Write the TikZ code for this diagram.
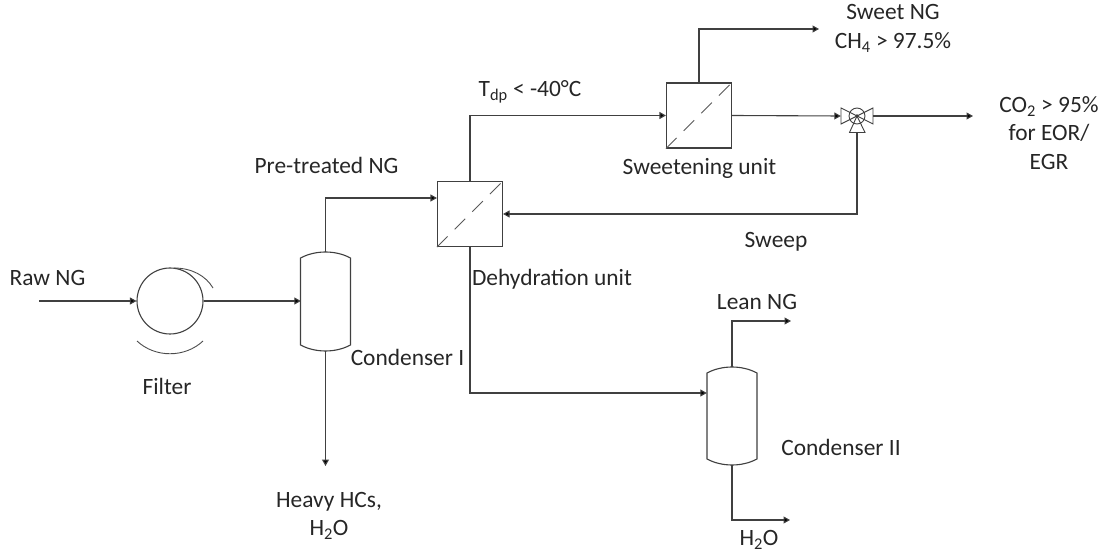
\documentclass[tikz,border=0pt]{standalone}
\usepackage{fontspec}
\setmainfont{Carlito}
\usetikzlibrary{arrows.meta}
\tikzset{
  x=1pt,y=-1pt,
  flow/.style={draw=black!75,line width=1.1pt,-{Triangle[length=6.5pt,width=7pt,fill=black]}},
  plain/.style={draw=black!75,line width=1.1pt},
  equip/.style={draw=black!75,line width=1.1pt,fill=white},
  lbl/.style={inner sep=0pt,font=\fontsize{23.4}{28.5}\selectfont,text=black!85,align=center},
  membrane/.style={equip,minimum width=65pt,minimum height=65pt,inner sep=0pt},
  slash/.style={draw=black!65,line width=0.9pt,dash pattern=on 15pt off 10pt},
  anchorpt/.style={inner sep=0pt,minimum size=0pt}
}
\newcommand{\vessel}[3]{%
  \draw[equip] (#1-25,#2+6) .. controls (#1-10,#2-2) and (#1+10,#2-2) .. (#1+25,#2+6)
    -- (#1+25,#3-6) .. controls (#1+10,#3+2) and (#1-10,#3+2) .. (#1-25,#3-6) -- cycle;}
\begin{document}
\begin{tikzpicture}
\useasboundingbox (0,0) rectangle (1101,553);
% filter
\node[equip,circle,minimum size=66pt,inner sep=0pt] (filter) at (170,301) {};
\draw[draw=black!70,line width=0.9pt] (174,268) .. controls (192,268) and (206,276) .. (213,288);
\draw[draw=black!70,line width=0.9pt] (137,341) .. controls (155,358) and (185,358) .. (203,341);
% condensers
\vessel{325.5}{252}{351}
\vessel{732}{367}{465}
\node[anchorpt] (c1w) at (301,301) {};
\node[anchorpt] (c1t) at (325.5,252) {};
\node[anchorpt] (c1b) at (325.5,351) {};
\node[anchorpt] (c2w) at (707,393) {};
\node[anchorpt] (c2t) at (732,367) {};
\node[anchorpt] (c2b) at (732,465) {};
% membrane units
\node[membrane] (dehy) at (470,214) {};
\node[membrane] (sweet) at (699,115.5) {};
\draw[slash] (dehy.south west) -- (dehy.north east);
\draw[slash] (sweet.south west) -- (sweet.north east);
% valve
\coordinate (vc) at (857,116);
\draw[draw=black!75,line width=0.9pt] (857,116) circle (8);
\draw[draw=black!75,line width=0.9pt] (841,108) -- (873,124) -- (873,108) -- (841,124) -- cycle;
\draw[draw=black!75,line width=0.9pt] (857,116) -- (865,132.5) -- (849.5,132.5) -- cycle;
\fill[black!75] (857,116) circle (1.8);
\node[anchorpt] (vl) at (841,116) {};
\node[anchorpt] (vr) at (873,116) {};
\node[anchorpt] (vb) at (857,132.5) {};
% free ends
\coordinate (rawin) at (39,301);
\coordinate (heavy) at (325.5,466);
\coordinate (sweetout) at (819,29);
\coordinate (co2) at (973,116);
\coordinate (lean) at (791,321);
\coordinate (water) at (790,520);
% connectors
\draw[flow] (rawin) -- (filter.west);
\draw[flow] (filter.east) -- (c1w);
\draw[flow] (c1t) |- (dehy.west |- 0,198);
\draw[flow] (c1b) -- (heavy);
\draw[flow] (dehy.north) |- (sweet.west);
\draw[flow] (sweet.north) |- (sweetout);
\draw[flow] (sweet.east) -- (vl);
\draw[flow] (vr) -- (co2);
\draw[flow] (vb) |- (dehy.east |- 0,214);
\draw[flow] (dehy.south) |- (c2w);
\draw[flow] (c2t) |- (lean);
\draw[flow] (c2b) |- (water);
% labels
\node[lbl] (t1) at (47.5,278) {Raw NG};
\node[lbl] (t2) at (167,386) {Filter};
\node[lbl] (t3) at (326.5,165) {Pre-treated NG};
\node[lbl] (t4) at (407.5,357) {Condenser I};
\node[lbl] (t5) at (329,516) {Heavy HCs,\\H\textsubscript{2}O};
\node[lbl] (t6) at (552,279) {Dehydration unit};
\node[lbl] (t7) at (530,92) {T\textsubscript{dp} < -40°C};
\node[lbl] (t8) at (699.5,168.5) {Sweetening unit};
\node[lbl] (t9) at (893,28.5) {Sweet NG\\CH\textsubscript{4} > 97.5\%};
\node[lbl] (t10) at (776,241.5) {Sweep};
\node[lbl] (t11) at (1049,133) {CO\textsubscript{2} > 95\%\\for EOR/\\EGR};
\node[lbl] (t12) at (757,302) {Lean NG};
\node[lbl] (t13) at (841,447) {Condenser II};
\node[lbl] (t14) at (759,540) {H\textsubscript{2}O};
\end{tikzpicture}
\end{document}
